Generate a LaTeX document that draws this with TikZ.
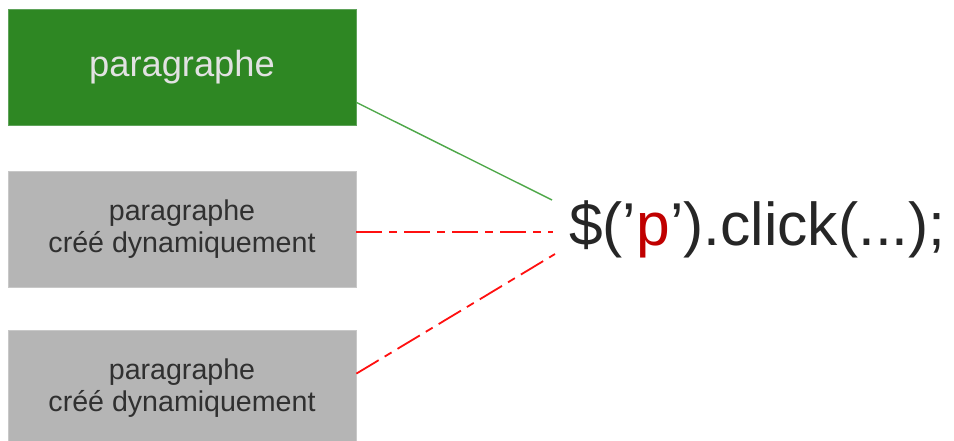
\documentclass[tikz,border=0pt]{standalone}
\usepackage{fontspec}
\setmainfont{Liberation Sans}
\definecolor{boxgreen}{HTML}{2E8723}
\definecolor{boxgreenedge}{HTML}{5FA35A}
\definecolor{boxgray}{HTML}{B5B5B5}
\definecolor{boxgrayedge}{HTML}{C8C8C8}
\definecolor{linkgreen}{HTML}{4FA84A}
\definecolor{linkred}{HTML}{FF1010}
\definecolor{selred}{HTML}{C00000}
\definecolor{codetext}{HTML}{262626}
\definecolor{graytext}{HTML}{303030}
\definecolor{greentext}{HTML}{E2E2E2}
\tikzset{
  elembox/.style={rectangle, inner sep=0pt, minimum width=348pt, minimum height=116pt,
    align=center, line width=0.8pt},
  staticbox/.style={elembox, fill=boxgreen, draw=boxgreenedge, text=greentext,
    font=\fontsize{36.3}{40}\selectfont},
  dynbox/.style={elembox, fill=boxgray, draw=boxgrayedge, text=graytext,
    font=\fontsize{28.6}{31.5}\selectfont},
  boundlink/.style={draw=linkgreen, line width=1.4pt},
  missedlink/.style={draw=linkred, line width=1.8pt,
    dash pattern=on 26pt off 7pt on 8pt off 7pt},
}
\begin{document}
\begin{tikzpicture}[x=1pt, y=-1pt]
  \useasboundingbox (0,0) rectangle (954,441);
  \begin{scope}
    \clip (0,0) rectangle (954,441);
    % element boxes
    \node[staticbox] (para) at (182,67) {paragraphe};
    \node[dynbox] (dyn1) at (182,229) {paragraphe\\créé dynamiquement};
    \node[dynbox] (dyn2) at (182,388) {paragraphe\\créé dynamiquement};
  \end{scope}
  % jQuery selector call
  \node[anchor=base west, inner sep=0pt, text=codetext,
        font=\fontsize{60.5}{66}\selectfont] (code) at (569,245)
        {\$(’\textcolor{selred}{p}’).click(...);};
  % ends of the connectors beside the code
  \coordinate (inA) at (552,200);
  \coordinate (inB) at (553,232);
  \coordinate (inC) at (555,254);
  % connectors
  \draw[boundlink] ([yshift=23pt]para.south east) -- (inA);
  \draw[missedlink] ([yshift=-3pt]dyn1.east) -- (inB);
  \draw[missedlink] ([yshift=-44pt]dyn2.north east) -- (inC);
\end{tikzpicture}
\end{document}
